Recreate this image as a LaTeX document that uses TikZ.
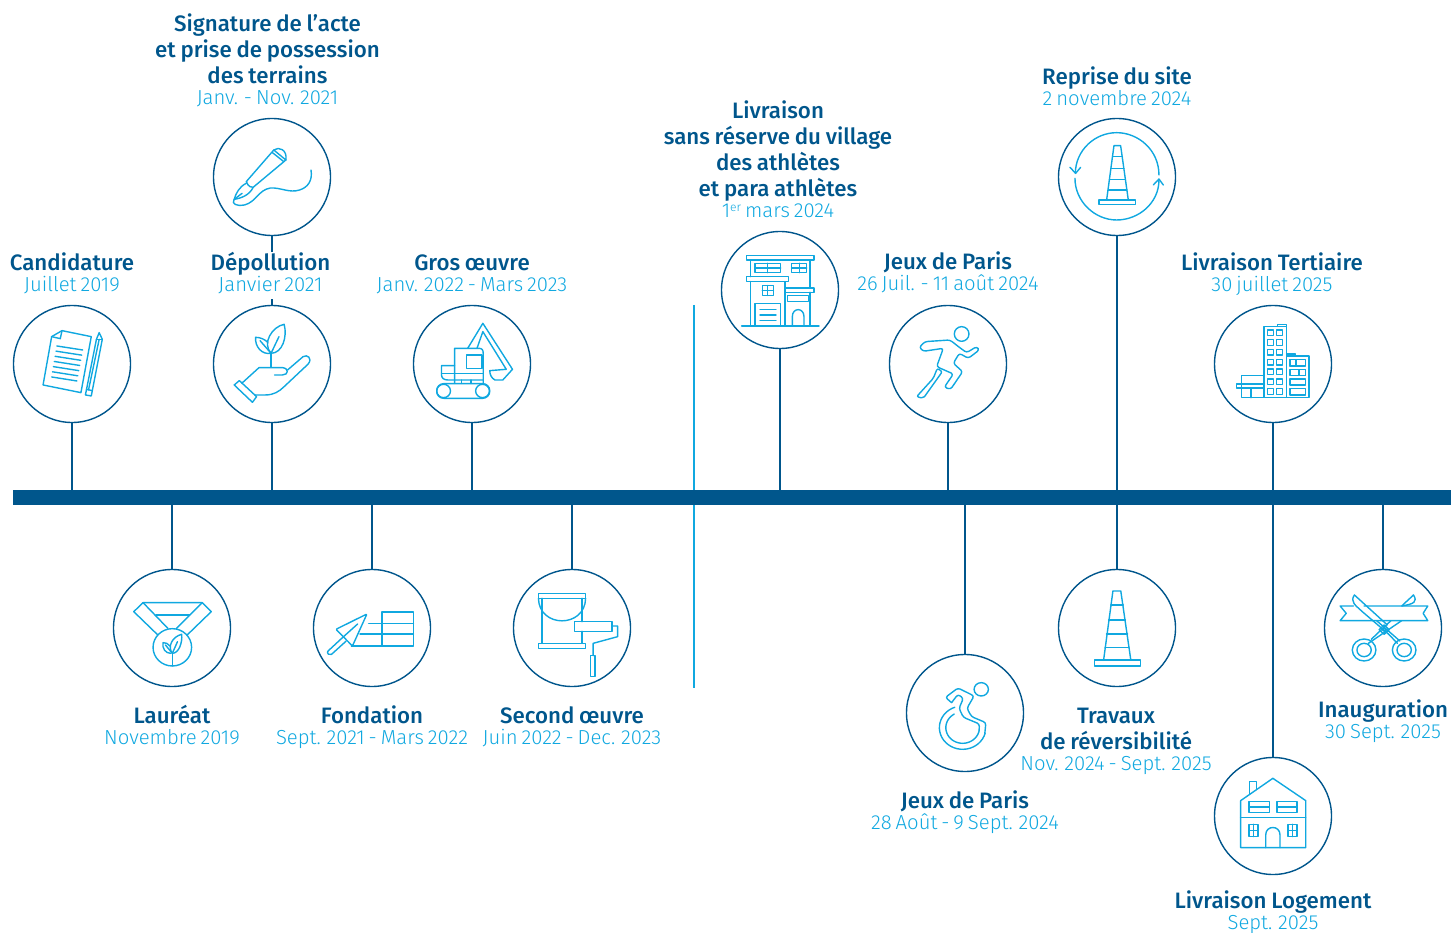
\documentclass[tikz,border=0pt]{standalone}
\usepackage{fontspec}
\setmainfont{Fira Sans}
\newfontfamily\titrefont{Fira Sans}[UprightFont=* Medium,WordSpace=0.85]
\newfontfamily\datefont{Fira Sans}[UprightFont=* Light,WordSpace=0.7]
\definecolor{bleufonce}{HTML}{00568C}
\definecolor{bleuclair}{HTML}{10A8E0}
\newcommand{\periode}[1]{\\[-5pt]{\datefont\fontsize{20.3}{24}\selectfont\color{bleuclair}\strut #1}}
\newcommand{\exposant}[1]{\raisebox{6pt}{\fontsize{12}{12}\selectfont #1}}
\tikzset{
  jalon/.style={circle,draw=bleufonce,line width=1.4pt,minimum size=117pt,inner sep=0pt},
  etiquette/.style={anchor=south,align=center,inner sep=0pt,text=bleufonce,font=\titrefont\fontsize{22.3}{26}\selectfont},
  trait/.style={draw=bleufonce,line width=1.4pt},
  icone/.style={draw=bleuclair,line width=1.4pt,line join=round,line cap=round},
  zone/.style n args={3}{shift={(#1,#2)},x=#3pt,y=-0.3333pt}
}
\begin{document}
\begin{tikzpicture}[x=1pt,y=-1pt]
\useasboundingbox (0,0) rectangle (1451,933);
\coordinate (reperehaut) at (694,305);
\coordinate (reperebas) at (694,688);
\draw[draw=bleuclair,line width=1.2pt] (reperehaut) -- (reperebas);
\node[minimum width=1438pt,minimum height=15pt,inner sep=0pt,fill=bleufonce] (frise) at (732,497.5) {};
\foreach \nom/\px/\py in {cand/72/364,signature/272/177,depollution/272/364,gros/472/364,
    laureat/172/628,fondation/372/628,second/572/628,village/780/290,jeux/948/364,
    reprise/1117/177,para/965/713,travaux/1117/628,tertiaire/1273/364,logement/1273/816,inaug/1383/628}
  \node[jalon] (\nom) at (\px,\py) {};
\foreach \nom in {cand,depollution,gros,laureat,fondation,second,village,jeux,para,inaug}
  \draw[trait] (\nom) -- (\nom |- frise);
\draw[trait] (signature) -- (depollution);
\draw[trait] (reprise) -- (travaux);
\draw[trait] (tertiaire) -- (logement);

\node[etiquette] (lcand) at (72,299) {Candidature\periode{Juillet 2019}};
\node[etiquette] (lsignature) at (267.5,112) {Signature de l’acte\\et prise de possession\\des terrains\periode{Janv. - Nov. 2021}};
\node[etiquette,fill=white] (ldepollution) at (270.5,299) {Dépollution\periode{Janvier 2021}};
\node[etiquette] (lgros) at (472,299) {Gros œuvre\periode{Janv. 2022 - Mars 2023}};
\node[etiquette] (lvillage) at (778,225) {Livraison\\sans réserve du village\\des athlètes\\et para athlètes\periode{1\exposant{er} mars 2024}};
\node[etiquette] (ljeux) at (948,298) {Jeux de Paris\periode{26 Juil. - 11 août 2024}};
\node[etiquette] (lreprise) at (1117,113) {Reprise du site\periode{2 novembre 2024}};
\node[etiquette] (ltertiaire) at (1272,299) {Livraison Tertiaire\periode{30 juillet 2025}};
\node[etiquette] (llaureat) at (172,752) {Lauréat\periode{Novembre 2019}};
\node[etiquette] (lfondation) at (372,752) {Fondation\periode{Sept. 2021 - Mars 2022}};
\node[etiquette] (lsecond) at (572,752) {Second œuvre\periode{Juin 2022 - Dec. 2023}};
\node[etiquette] (lpara) at (965,837) {Jeux de Paris\periode{28 Août - 9 Sept. 2024}};
\node[etiquette] (ltravaux) at (1116,778) {Travaux\\de réversibilité\periode{Nov. 2024 - Sept. 2025}};
\node[etiquette] (linaug) at (1383,746) {Inauguration\periode{30 Sept. 2025}};
\node[etiquette] (llogement) at (1273,937) {Livraison Logement\periode{Sept. 2025}};

\begin{scope}[zone={0}{100}{0.3444},icone]
  \draw (150,710) -- (180,692) -- (265,710) -- (235,878) -- (125,855) -- cycle;
  \draw (150,710) -- (175,716) -- (180,692);
  \foreach \i in {0,...,6}
    \draw (165-2.5*\i,738+15.5*\i) -- (240-2.8*\i,750+15.5*\i);
  \draw (288,698) -- (280,718) -- (248,885) -- (265,888) -- (297,718) -- cycle;
  \draw (280,718) -- (297,718);
  \draw (288,718) -- (257,870);
  \draw (251,868) -- (268,872);
  %
  \draw (795,150) -- (715,245) .. controls (722,262) and (730,262) .. (735,262) -- (830,180);
  \draw (795,150) .. controls (810,138) and (835,150) .. (830,180);
  \draw (795,150) -- (830,180);
  \draw (790,157) -- (824,185);
  \draw (715,250) .. controls (695,260) and (685,280) .. (680,298) .. controls (700,295) and (725,285) .. (735,262);
  \draw (680,298) -- (703,280);
  \draw (680,298) .. controls (670,312) and (690,320) .. (710,315)
    .. controls (745,305) and (750,270) .. (785,264)
    .. controls (815,262) and (840,280) .. (870,270)
    .. controls (895,262) and (908,240) .. (903,210);
  %
  \draw (787,800) -- (787,760);
  \draw (787,760) .. controls (760,730) and (790,680) .. (825,673) .. controls (835,710) and (820,760) .. (787,760);
  \draw (787,760) -- (810,710);
  \draw (787,760) .. controls (760,765) and (740,740) .. (742,712) .. controls (755,712) and (770,718) .. (778,728);
  \draw (755,722) -- (787,760);
  \draw (680,855) -- (695,842) -- (745,890) -- (733,907) -- cycle;
  \draw (702,850) -- (752,803) -- (820,803) .. controls (840,805) and (838,825) .. (820,825) -- (797,825);
  \draw (835,810) -- (880,770) .. controls (892,762) and (908,775) .. (895,792) -- (825,860)
    .. controls (810,875) and (795,885) .. (770,885) -- (740,885);
  %
  \draw (1320,850) -- (1320,745) -- (1390,745) .. controls (1400,745) and (1403,750) .. (1403,760) -- (1403,850);
  \draw (1355,765) rectangle (1400,805);
  \draw (1320,797) -- (1282,797) -- (1282,825) .. controls (1282,835) and (1290,840) .. (1300,840) -- (1403,840);
  \draw (1282,820) -- (1403,820);
  \draw (1340,840) -- (1340,850);
  \draw (1368,840) -- (1368,850);
  \draw[rounded corners=7pt] (1268,851) rectangle (1422,895);
  \draw (1288,873) circle [radius=20];
  \draw (1401,873) circle [radius=20];
  \draw (1358,745) -- (1402,670) -- (1488,808) -- (1460,840) -- (1437,840) .. controls (1428,835) and (1422,825) .. (1422,812) -- (1470,808) -- (1402,695) -- (1385,745);
\end{scope}

\begin{scope}[zone={100}{560}{0.3444},icone]
  \draw (125,128) -- (297,128) -- (323,155) -- (253,225);
  \draw (125,128) -- (98,155) -- (168,225);
  \draw (125,128) -- (197,205);
  \draw (297,128) -- (222,205);
  \draw (162,165) -- (260,165);
  \draw (210,262) circle [radius=56];
  \draw (210,318) -- (210,280);
  \draw (210,280) .. controls (195,260) and (210,230) .. (237,223) .. controls (240,245) and (230,280) .. (210,280);
  \draw (210,280) -- (225,245);
  \draw (205,280) .. controls (190,280) and (180,265) .. (183,248) .. controls (190,248) and (198,250) .. (203,258);
  \draw (190,255) -- (210,280);
  %
  \draw[line width=1.7pt] (818,155) rectangle (910,258);
  \draw[line width=1.5pt] (780,190) -- (910,190);
  \draw[line width=1.5pt] (755,222) -- (910,222);
  \draw[line width=1.5pt] (730,258) -- (818,258);
  \draw[rounded corners=1pt] (685,208) -- (775,162) -- (733,258) -- cycle;
  \draw (748,192) -- (705,232);
  \draw[rounded corners=2pt] (705,232) -- (658,277) -- (668,287) -- (715,243);
  %
  \draw (1273,100) rectangle (1410,115);
  \draw (1283,115) -- (1283,250);
  \draw (1400,115) -- (1400,185);
  \draw (1400,214) -- (1400,250);
  \draw (1273,115) .. controls (1275,205) and (1408,205) .. (1410,115);
  \draw (1273,250) rectangle (1410,265);
  \draw (1377,185) rectangle (1487,214);
  \draw (1487,198) -- (1503,198) -- (1503,230) -- (1432,250) -- (1432,287);
  \draw (1425,287) rectangle (1437,350);
\end{scope}

\begin{scope}[zone={710}{110}{0.3333},icone]
  \draw (110,436) rectangle (312,450);
  \draw (122,450) -- (122,500);
  \draw (300,450) -- (300,534);
  \draw (135,460) rectangle (212,488);
  \draw (173,460) -- (173,488);
  \draw (135,474) -- (212,474);
  \draw (245,460) rectangle (290,488);
  \draw (268,460) -- (268,488);
  \draw (245,474) -- (290,474);
  \draw (110,500) rectangle (236,515);
  \draw (122,515) -- (122,648);
  \draw (225,515) -- (225,648);
  \draw (157,527) rectangle (190,556);
  \draw (173,527) -- (173,556);
  \draw (157,541) -- (190,541);
  \draw (225,534) rectangle (312,547);
  \draw (300,547) -- (300,648);
  \draw (232,556) rectangle (296,575);
  \draw (135,648) -- (135,580) -- (212,580) -- (212,648);
  \foreach \y in {598,615,632}
    \draw (150,\y) -- (198,\y);
  \draw (247,648) -- (247,620) .. controls (247,592) and (282,592) .. (282,620) -- (282,648);
  \draw (95,648) -- (327,648);
  %
  \draw (755,672) circle [radius=22];
  \draw[rounded corners=2.5pt] (628,712) -- (645,695) -- (720,690) -- (748,712) -- (770,728) -- (800,710) -- (808,720) -- (775,745) -- (748,730) -- (730,760) -- (758,785) -- (722,838) -- (703,832) -- (730,792) -- (680,770) -- (700,715) -- (640,724) -- cycle;
  \draw[rounded corners=2pt] (682,775) -- (697,785) -- (640,865) -- (620,860) -- (670,805) -- cycle;
  %
  \draw (1212,107) -- (1232,107) -- (1255,270) -- (1190,270) -- cycle;
  \draw (1208,140) -- (1237,140);
  \draw (1204,175) -- (1242,175);
  \draw (1199,208) -- (1246,208);
  \draw (1195,240) -- (1251,240);
  \draw (1167,270) rectangle (1277,283);
  \draw (1347,195) .. controls (1347,120) and (1285,68) .. (1220,68) .. controls (1155,68) and (1097,120) .. (1096,190);
  \draw (1080,172) -- (1097,190) -- (1112,172);
  \draw (1095,205) .. controls (1095,275) and (1155,330) .. (1220,330) .. controls (1285,330) and (1347,280) .. (1347,210);
  \draw (1330,225) -- (1347,207) -- (1360,225);
\end{scope}

\begin{scope}[zone={1200}{300}{0.3333},icone]
  \draw (192,80) rectangle (260,293);
  \draw (233,73) rectangle (260,80);
  \foreach \r in {0,...,6} {
    \draw (203,90+29.3*\r) rectangle (220,107+29.3*\r);
    \draw (230,90+29.3*\r) rectangle (247,107+29.3*\r);
  }
  \draw (260,168) rectangle (327,293);
  \draw (260,162) rectangle (287,170);
  \draw (270,178) rectangle (316,198);
  \draw (270,208) rectangle (316,226);
  \draw (270,237) rectangle (316,255);
  \draw (270,266) rectangle (316,285);
  \draw (270,178) rectangle (288,198);
  \draw (297,208) rectangle (316,226);
  \draw (192,226) -- (124,226) -- (124,293) -- (192,293);
  \draw (110,252) rectangle (192,264);
  \draw (153,264) -- (153,293);
\end{scope}

\begin{scope}[zone={890}{560}{0.3578},icone]
  \draw (255,388) circle [radius=20];
  \draw[rounded corners=2.5pt] (172,428) -- (155,412) -- (190,384) -- (235,408) -- (215,445) -- (228,470) -- (268,488) -- (265,520);
  \draw[rounded corners=2.5pt] (249,511) -- (250,492) -- (205,472) -- (193,445) -- (205,415) -- (190,403) -- (172,428);
  \draw plot[smooth,domain=15:250,samples=30] ({203+65*cos(\x)},{503+65*sin(\x)});
  \draw plot[smooth,domain=10:240,samples=30] ({203+47*cos(\x)},{503+47*sin(\x)});
  %
  \draw (623,93) -- (645,93) -- (673,300) -- (597,300) -- cycle;
  \foreach \y/\a in {135/617,180/611,222/605,263/601}
    \draw (\a,\y) -- (1269-\a,\y);
  \draw (571,300) rectangle (700,318);
  %
  \draw (980,722) -- (1070,655) -- (1162,722) -- (1162,863) -- (980,863) -- cycle;
  \draw (1004,703) -- (1004,665) -- (1025,665) -- (1025,688);
  \draw (980,772) -- (1162,772);
  \draw (1003,725) rectangle (1060,757);
  \draw (1003,741) -- (1060,741);
  \draw (1081,725) rectangle (1138,757);
  \draw (1081,741) -- (1138,741);
  \draw (1003,793) rectangle (1028,830);
  \draw (1015.5,793) -- (1015.5,830);
  \draw (1003,811) -- (1028,811);
  \draw (1112,793) rectangle (1138,830);
  \draw (1125,793) -- (1125,830);
  \draw (1112,811) -- (1138,811);
  \draw (1050,863) -- (1050,825) .. controls (1050,795) and (1090,795) .. (1090,825) -- (1090,863);
  %
  \draw (1325,138) -- (1503,138) -- (1490,160) -- (1503,182) -- (1258,182) -- (1275,160) -- (1258,138) -- (1295,138);
  \draw (1298,105) .. controls (1285,125) and (1300,135) .. (1320,155) -- (1393,222);
  \draw (1298,105) -- (1390,195);
  \draw (1463,105) .. controls (1475,125) and (1465,132) .. (1430,138);
  \draw (1463,105) -- (1432,136);
  \draw (1430,182) -- (1337,250);
  \draw (1400,182) -- (1345,238);
  \draw (1360,182) -- (1425,243);
  \draw (1393,222) -- (1418,250);
  \draw (1381,195) -- (1395,209) -- (1381,223) -- (1367,209) -- cycle;
  \draw (1381,209) circle [radius=5];
  \foreach \cx in {1325,1437} {
    \draw (\cx,270) circle [radius=33];
    \draw (\cx,270) circle [radius=20];
  }
\end{scope}
\end{tikzpicture}
\end{document}
